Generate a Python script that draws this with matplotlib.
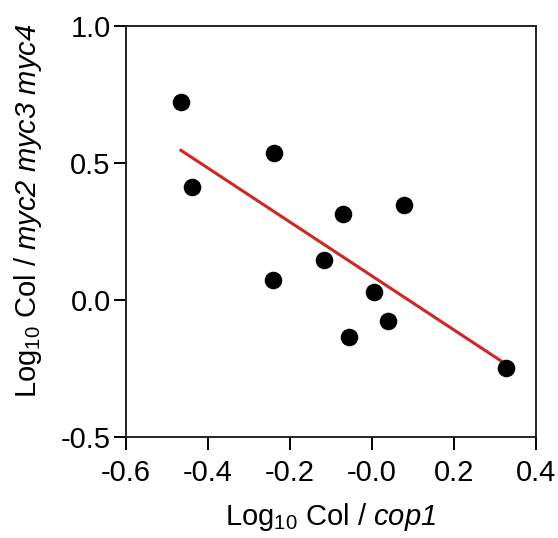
import numpy as np
import matplotlib
matplotlib.use("Agg")
import matplotlib.pyplot as plt

# data
x_cop1 = [-0.466, -0.438, -0.240, -0.242, -0.070, -0.116, 0.077, 0.006, 0.040, -0.055, 0.327]
y_myc = [0.724, 0.414, 0.535, 0.073, 0.313, 0.146, 0.347, 0.030, -0.076, -0.136, -0.249]

x_ticks = [-0.6, -0.4, -0.2, 0.0, 0.2, 0.4]
x_tick_labels = ["-0.6", "-0.4", "-0.2", "-0.0", "0.2", "0.4"]
y_ticks = [-0.5, 0.0, 0.5, 1.0]
y_tick_labels = ["-0.5", "0.0", "0.5", "1.0"]

plt.rcParams["font.family"] = ["Liberation Sans", "DejaVu Sans"]
plt.rcParams["mathtext.fontset"] = "custom"
plt.rcParams["mathtext.rm"] = "Liberation Sans"
plt.rcParams["mathtext.it"] = "Liberation Sans:italic"
plt.rcParams["mathtext.sf"] = "Liberation Sans:italic"

fig = plt.figure(figsize=(5.58, 5.38), dpi=100)
ax = fig.add_axes([0.2258, 0.1877, 0.7348, 0.764])

ax.scatter(x_cop1, y_myc, s=160, color="black", zorder=3, linewidths=0)

# linear fit
slope, intercept = np.polyfit(x_cop1, y_myc, 1)
xf = np.array([min(x_cop1), max(x_cop1)])
ax.plot(xf, slope * xf + intercept, color="#d42424", lw=2.2, zorder=2)

ax.set_xlim(-0.6, 0.4)
ax.set_ylim(-0.5, 1.0)
ax.set_xticks(x_ticks)
ax.set_xticklabels(x_tick_labels)
ax.set_yticks(y_ticks)
ax.set_yticklabels(y_tick_labels)
ax.tick_params(direction="out", length=9, width=1.4, labelsize=21)
ax.tick_params(axis="x", pad=7)
ax.tick_params(axis="y", pad=2)
for sp in ax.spines.values():
    sp.set_linewidth(1.4)
    sp.set_color("#222222")

ax.set_xlabel("Log$_{10}$ Col / $\\mathsf{cop1}$", fontsize=21, labelpad=10)
ax.set_ylabel("Log$_{10}$ Col / $\\mathsf{myc2\\ myc3\\ myc4}$", fontsize=21)
ax.yaxis.set_label_coords(-0.20, 0.55)

fig.savefig("out.png", dpi=100)
